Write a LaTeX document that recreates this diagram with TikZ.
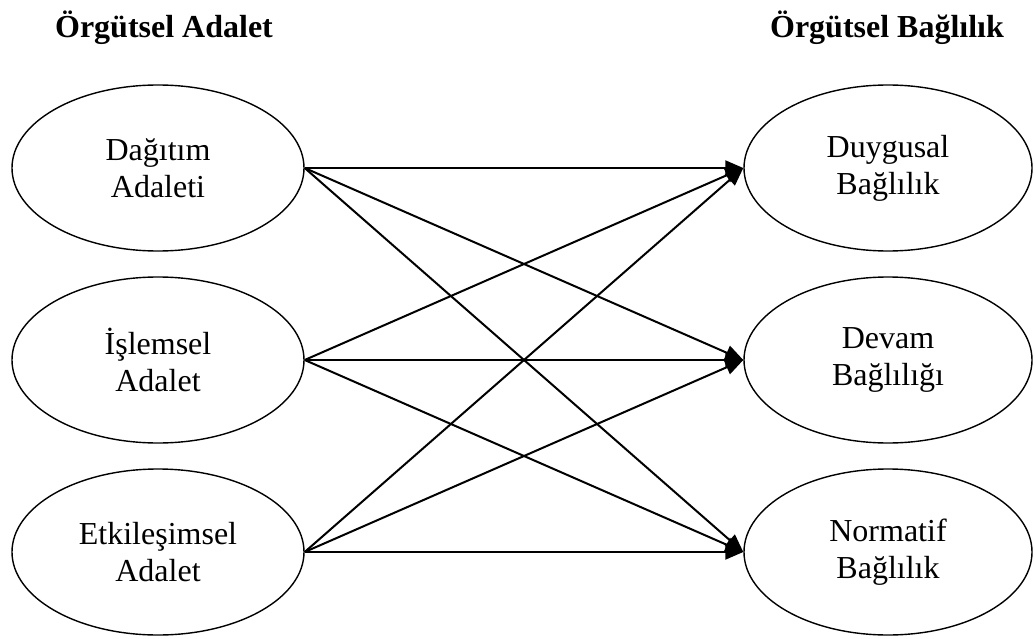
\documentclass[tikz,border=0pt]{standalone}
\usepackage{fontspec}
\setmainfont{Liberation Serif}
\usetikzlibrary{shapes.geometric,arrows.meta}
\begin{document}
\begin{tikzpicture}[x=1pt,y=1pt,
  oval/.style={draw, line width=1.4pt, ellipse, inner sep=0pt, minimum width=292pt, minimum height=166pt,
    align=center, font=\fontsize{32}{37}\selectfont},
  roval/.style={oval, minimum width=288pt},
  arr/.style={line width=2pt, -{Triangle[length=18pt,width=15pt]}},
  head/.style={font=\fontsize{32}{37}\selectfont\bfseries, inner sep=0pt, anchor=base}]
\useasboundingbox (0,0) rectangle (1035,-639);
\node[head] (h1) at (164,-38) {Örgütsel Adalet};
\node[head] (h2) at (887,-38) {Örgütsel Bağlılık};
\node[oval] (L1) at (158,-168) {Dağıtım\\Adaleti};
\node[oval] (L2) at (158,-360) {İşlemsel\\Adalet};
\node[oval] (L3) at (158,-552) {Etkileşimsel\\Adalet};
\node[roval] (R1) at (888,-168) {Duygusal\\Bağlılık};
\node[roval] (R2) at (888,-360) {Devam\\Bağlılığı};
\node[roval] (R3) at (888,-552) {Normatif\\Bağlılık};
\foreach \a in {L1,L2,L3}{
  \foreach \b in {R1,R2,R3}{
    \draw[arr] (\a.east) -- (\b.west);
  }
}
\end{tikzpicture}
\end{document}
